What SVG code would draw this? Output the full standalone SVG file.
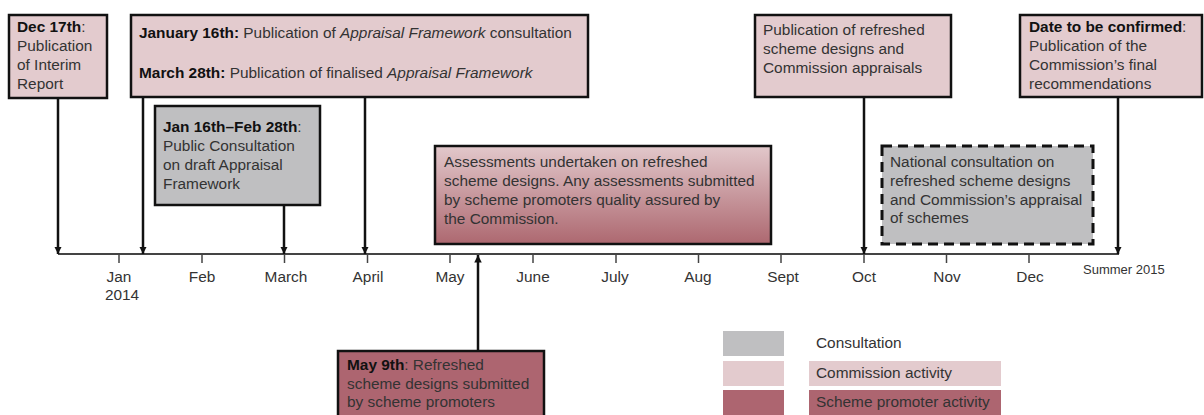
<svg xmlns="http://www.w3.org/2000/svg" width="1204" height="415" viewBox="0 0 1204 415">
<style>
text{font-family:"Liberation Sans",Arial,sans-serif;font-size:15.4px;fill:#333}
.b{font-weight:bold;fill:#111}
.i{font-style:italic}
.box{stroke:#111;stroke-width:2.5}
.pink{fill:#e3cbce}
.dark{fill:#ad6570}
.grey{fill:#bfbfc1}
.arr{stroke:#111;stroke-width:2.5;fill:none;marker-end:url(#ah)}
.tick{stroke:#444;stroke-width:1.5}
.m{text-anchor:middle}
</style>
<defs>
<marker id="ah" viewBox="0 0 10 10" refX="10" refY="5" markerWidth="3" markerHeight="3.2" orient="auto" markerUnits="strokeWidth">
<path d="M0,0 L10,5 L0,10 z" fill="#111"/>
</marker>
<linearGradient id="g1" x1="0" y1="0" x2="0" y2="1">
<stop offset="0" stop-color="#e2c8cb"/>
<stop offset="1" stop-color="#ad6870"/>
</linearGradient>
</defs>

<g id="axis">
<line x1="58" y1="254" x2="1119" y2="254" stroke="#444" stroke-width="2"/>
<line class="tick" x1="119" y1="254" x2="119" y2="263"/>
<line class="tick" x1="202" y1="254" x2="202" y2="263"/>
<line class="tick" x1="284.5" y1="254" x2="284.5" y2="263"/>
<line class="tick" x1="367.5" y1="254" x2="367.5" y2="263"/>
<line class="tick" x1="450" y1="254" x2="450" y2="263"/>
<line class="tick" x1="533" y1="254" x2="533" y2="263"/>
<line class="tick" x1="616" y1="254" x2="616" y2="263"/>
<line class="tick" x1="698.5" y1="254" x2="698.5" y2="263"/>
<line class="tick" x1="781" y1="254" x2="781" y2="263"/>
<line class="tick" x1="864" y1="254" x2="864" y2="263"/>
<line class="tick" x1="946.5" y1="254" x2="946.5" y2="263"/>
<line class="tick" x1="1029" y1="254" x2="1029" y2="263"/>
<text class="m" x="119" y="282">Jan</text>
<text class="m" x="122" y="300">2014</text>
<text class="m" x="202" y="282">Feb</text>
<text class="m" x="286" y="282">March</text>
<text class="m" x="368" y="282">April</text>
<text class="m" x="450" y="282">May</text>
<text class="m" x="533" y="282">June</text>
<text class="m" x="615" y="282">July</text>
<text class="m" x="698" y="282">Aug</text>
<text class="m" x="783" y="282">Sept</text>
<text class="m" x="864" y="282">Oct</text>
<text class="m" x="947" y="282">Nov</text>
<text class="m" x="1030" y="282">Dec</text>
<text x="1083" y="274" style="font-size:13px">Summer 2015</text>
</g>

<g id="connectors">
<line class="arr" x1="58" y1="98" x2="58" y2="254"/>
<line class="arr" x1="143" y1="97" x2="143" y2="254"/>
<line class="arr" x1="365" y1="97" x2="365" y2="254"/>
<line class="arr" x1="284" y1="205" x2="284" y2="254"/>
<line class="arr" x1="864" y1="97" x2="864" y2="254"/>
<line class="arr" x1="1118" y1="97" x2="1118" y2="254"/>
<line class="arr" x1="478" y1="351" x2="478" y2="255"/>
</g>

<g id="dec17">
<rect class="box pink" x="9" y="15" width="98" height="83"/>
<text x="17" y="32"><tspan class="b">Dec 17th</tspan>:</text>
<text x="17" y="51">Publication</text>
<text x="17" y="70">of Interim</text>
<text x="17" y="89">Report</text>
</g>

<g id="jan16">
<rect class="box pink" x="131" y="15" width="457" height="82"/>
<text x="139" y="38"><tspan class="b">January 16th:</tspan> Publication of <tspan class="i">Appraisal Framework</tspan> consultation</text>
<text x="139" y="78"><tspan class="b">March 28th:</tspan> Publication of finalised <tspan class="i">Appraisal Framework</tspan></text>
</g>

<g id="consultation">
<rect class="box grey" x="155" y="106" width="165" height="99"/>
<text x="163" y="132"><tspan class="b">Jan 16th–Feb 28th</tspan>:</text>
<text x="163" y="151">Public Consultation</text>
<text x="163" y="170">on draft Appraisal</text>
<text x="163" y="189">Framework</text>
</g>

<g id="assessments">
<rect class="box" fill="url(#g1)" x="435" y="146" width="336" height="98"/>
<text x="444" y="167">Assessments undertaken on refreshed</text>
<text x="444" y="186">scheme designs. Any assessments submitted</text>
<text x="444" y="205">by scheme promoters quality assured by</text>
<text x="444" y="224">the Commission.</text>
</g>

<g id="refreshed">
<rect class="box pink" x="755" y="15" width="196" height="82"/>
<text x="763" y="35">Publication of refreshed</text>
<text x="763" y="54">scheme designs and</text>
<text x="763" y="73">Commission appraisals</text>
</g>

<g id="national">
<rect class="grey" x="882" y="146" width="211" height="98" stroke="#111" stroke-width="3" stroke-dasharray="10,6"/>
<text x="890" y="167">National consultation on</text>
<text x="890" y="186">refreshed scheme designs</text>
<text x="890" y="205">and Commission’s appraisal</text>
<text x="890" y="223">of schemes</text>
</g>

<g id="final">
<rect class="box pink" x="1020" y="15" width="182" height="82"/>
<text x="1029" y="32"><tspan class="b">Date to be confirmed</tspan>:</text>
<text x="1029" y="51">Publication of the</text>
<text x="1029" y="70">Commission’s final</text>
<text x="1029" y="89">recommendations</text>
</g>

<g id="may9">
<rect class="box dark" x="338" y="351" width="206" height="70"/>
<text x="347" y="370"><tspan class="b">May 9th</tspan>: Refreshed</text>
<text x="347" y="389">scheme designs submitted</text>
<text x="347" y="407">by scheme promoters</text>
</g>

<g id="legend">
<rect class="grey" x="723" y="331" width="61" height="25"/>
<rect class="pink" x="723" y="361" width="61" height="25"/>
<rect class="dark" x="723" y="390" width="61" height="25"/>
<rect class="pink" x="809" y="361" width="192" height="25"/>
<rect class="dark" x="809" y="390" width="192" height="25"/>
<text x="816" y="348">Consultation</text>
<text x="816" y="378">Commission activity</text>
<text x="816" y="407">Scheme promoter activity</text>
</g>
</svg>
